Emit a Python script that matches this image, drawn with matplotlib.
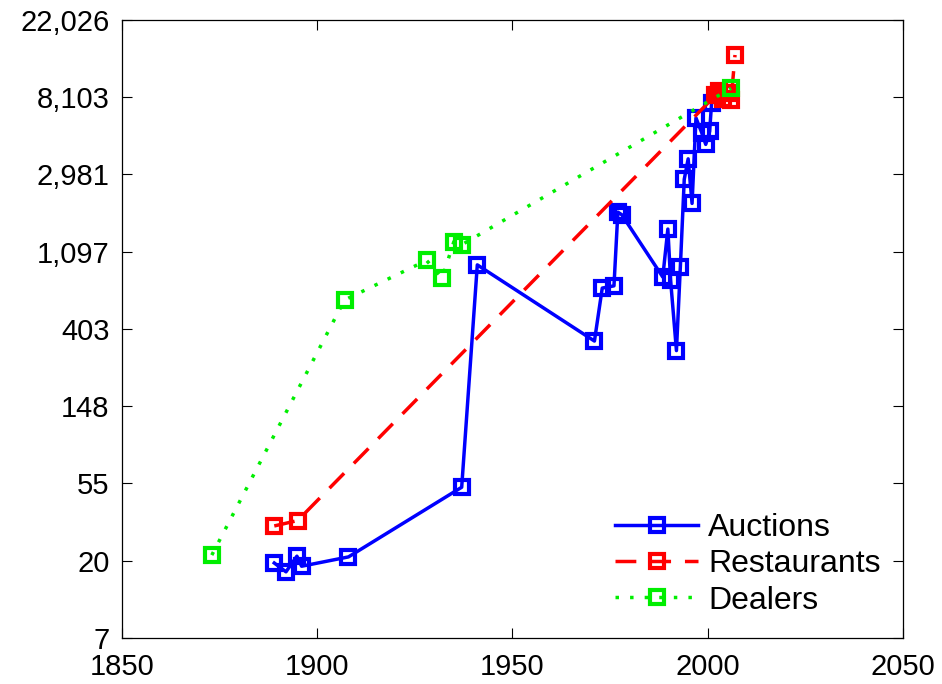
import numpy as np
import matplotlib
matplotlib.use('Agg')
import matplotlib.pyplot as plt

plt.rcParams['font.family'] = 'Liberation Sans'

# auctions
auc_year = [1889, 1892, 1894.8, 1896, 1908, 1937, 1941, 1971, 1973, 1976, 1977, 1978,
            1988.5, 1989.8, 1990.5, 1992, 1993, 1994, 1995, 1996, 1997, 1998.5, 1999.5, 2000.5, 2001]
auc_val = [19.5, 17.4, 21.3, 18.7, 21.1, 52, 925, 345, 685, 705, 1830, 1770,
           790, 1470, 760, 305, 900, 2800, 3650, 2050, 6200, 5100, 4400, 5200, 7500]

# restaurants
rest_year = [1889, 1895, 2002, 2003, 2004, 2005, 2006, 2007]
rest_val = [31.5, 33.8, 8300, 8800, 7900, 8600, 7800, 14000]

# dealers
deal_year = [1873, 1907, 1928, 1932, 1935, 1937, 2006]
deal_val = [21.6, 587, 980, 780, 1250, 1200, 9100]

yt = np.exp(np.arange(2, 11))
yt_labels = ['{:,}'.format(int(round(v))) for v in yt]

fig = plt.figure(figsize=(9.42, 6.84), dpi=100)
ax = fig.add_axes([0.1295, 0.0673, 0.829, 0.9035])

mk = dict(marker='s', markerfacecolor='none', markersize=10, markeredgewidth=3)
ax.plot(auc_year, auc_val, '-', color='#0000ff', lw=2.5, label='Auctions', **mk)
ax.plot(rest_year, rest_val, '--', color='#ff0000', lw=2.5, dashes=(6, 4), label='Restaurants', **mk)
ax.plot(deal_year, deal_val, ':', color='#00ee00', lw=2.5, dashes=(1, 3.2), label='Dealers', **mk)

ax.set_yscale('log')
ax.set_ylim(yt[0], yt[-1])
ax.set_yticks(yt)
ax.set_yticklabels(yt_labels)
ax.minorticks_off()
ax.set_xlim(1850, 2050)
ax.set_xticks([1850, 1900, 1950, 2000, 2050])
ax.tick_params(direction='in', top=True, right=True, labelsize=21, length=7, width=0.8)
ax.tick_params(axis='x', pad=11)
ax.tick_params(axis='y', pad=9)
for s in ax.spines.values():
    s.set_linewidth(0.9)

ax.legend(loc='lower right', frameon=False, fontsize=23, handlelength=2.6,
          handletextpad=0.3, borderaxespad=0.3, labelspacing=0.2)

fig.savefig('out.png', dpi=100)
